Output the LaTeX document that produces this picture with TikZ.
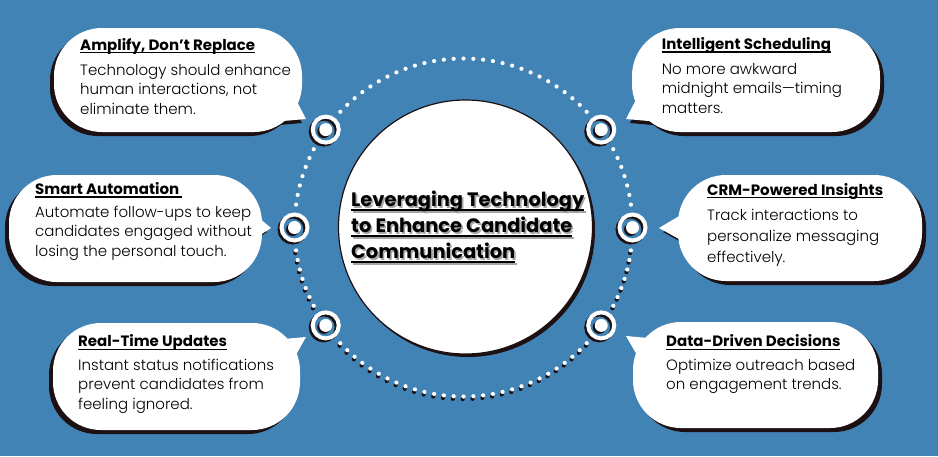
\documentclass[tikz,border=0pt]{standalone}
\usepackage{fontspec}
\setmainfont{Poppins}[UprightFont=* Light, BoldFont=* Bold]
\usetikzlibrary{calc}
\definecolor{bgblue}{RGB}{66,131,182}
\definecolor{shadowc}{RGB}{28,16,18}
\newlength\myulwd
\newcommand\myul[3]{\settowidth{\myulwd}{#3}\rlap{\rule[-#1]{\myulwd}{#2}}#3}
\newcommand\mybubble[6]{%
  \fill[#1, rounded corners=48pt] (#2,#3) rectangle (#4,#5);
  \fill[#1] #6 -- cycle;}
\begin{document}
\begin{tikzpicture}[x=1pt,y=-1pt,
  ttl/.style={anchor=base west, inner sep=0pt, font=\fontsize{15}{17}\selectfont\bfseries},
  bodytxt/.style={anchor=north west, inner sep=0pt, align=left, font=\fontsize{15}{19.4}\selectfont},
  dotw/.style={fill=white},
  dotb/.style={fill=shadowc}]
\useasboundingbox (0,0) rectangle (938,456);
\fill[bgblue] (0,0) rectangle (938,456);

% dotted circle
\coordinate (C) at (463.5,227.5);
\foreach \s/\e/\n in {7.8/27.6/6, 43.2/136.8/28, 152.4/172.2/6}{
  \foreach \i in {0,...,\n}{
    \pgfmathsetmacro\ang{\s+\i*(\e-\s)/\n}
    \fill[dotb] (C) ++(-0.8,2.6) ++(\ang:169) circle (2.1);
  }}
\foreach \s/\e/\n in {7.8/27.6/6, 43.2/136.8/28, 152.4/172.2/6, 187.8/207.6/6, 223.2/316.8/28, 332.4/352.2/6}{
  \foreach \i in {0,...,\n}{
    \pgfmathsetmacro\ang{\s+\i*(\e-\s)/\n}
    \fill[dotw] (C) ++(\ang:169) circle (2.1);
  }}

% rings
\foreach \a/\nm in {0/r5, 35.4/r6, 144.6/r3, 180/r2, 215.4/r1, 324.6/r4}{
  \coordinate (\nm) at ($(C)+(\a:169)$);
  \draw[shadowc, line width=4pt] (\nm) ++(-2,2) circle (13);
  \fill[shadowc] (\nm) ++(-2,2) circle (6.5);
  \draw[white, line width=4pt] (\nm) circle (13);
  \fill[white] (\nm) circle (6.5);
}

% central circle
\fill[shadowc] (468,230) circle (127);
\draw[fill=white, draw=shadowc, line width=1.2pt] (465.5,227) circle (127);
\node[anchor=north west, inner sep=0pt, align=left, text=gray!70,
  font=\fontsize{19.4}{26}\selectfont\bfseries] (tshadow) at (352.6,192.6)
  {\myul{4.6pt}{2pt}{Leveraging Technology}\\\myul{4.6pt}{2pt}{to Enhance Candidate}\\\myul{4.6pt}{2pt}{Communication}};
\node[anchor=north west, inner sep=0pt, align=left, text=black,
  font=\fontsize{19.4}{26}\selectfont\bfseries] (title) at (351,191)
  {\myul{4.6pt}{2pt}{Leveraging Technology}\\\myul{4.6pt}{2pt}{to Enhance Candidate}\\\myul{4.6pt}{2pt}{Communication}};

% bubble shadows
\begin{scope}[shift={(-4,4)}]
  \mybubble{shadowc}{54}{28}{302}{132}{(292,92) -- (306,119) -- (272,122)}
  \mybubble{shadowc}{9}{175}{262}{282}{(252,212) -- (271,228) -- (248,243)}
  \mybubble{shadowc}{53}{323}{300}{430}{(272,340) -- (306,337) -- (292,362)}
\end{scope}
\begin{scope}[shift={(4,4)}]
  \mybubble{shadowc}{632}{28}{880}{132}{(640,92) -- (626,119) -- (660,122)}
  \mybubble{shadowc}{678}{175}{922}{281}{(686,212) -- (659,228) -- (688,244)}
  \mybubble{shadowc}{633}{322}{878}{428}{(626,336) -- (660,339) -- (641,362)}
\end{scope}
% bubbles
\mybubble{white}{54}{28}{302}{132}{(292,92) -- (306,119) -- (272,122)}
\mybubble{white}{9}{175}{262}{282}{(252,212) -- (271,228) -- (248,243)}
\mybubble{white}{53}{323}{300}{430}{(272,340) -- (306,337) -- (292,362)}
\mybubble{white}{632}{28}{880}{132}{(640,92) -- (626,119) -- (660,122)}
\mybubble{white}{678}{175}{922}{281}{(686,212) -- (659,228) -- (688,244)}
\mybubble{white}{633}{322}{878}{428}{(626,336) -- (660,339) -- (641,362)}

% texts
\node[ttl] (t1) at (80,50) {\myul{3.3pt}{1.4pt}{Amplify, Don’t Replace}};
\node[bodytxt] (b1) at (80,64) {Technology should enhance\\human interactions, not\\eliminate them.};

\node[ttl] (t2) at (35,194.3) {\myul{3.3pt}{1.4pt}{Smart Automation\ }};
\node[bodytxt] (b2) at (35,205.7) {Automate follow-ups to keep\\candidates engaged without\\losing the personal touch.};

\node[ttl] (t3) at (78,346.7) {\myul{3.3pt}{1.4pt}{Real-Time Updates}};
\node[bodytxt] (b3) at (78,359) {Instant status notifications\\prevent candidates from\\feeling ignored.};

\node[ttl] (t4) at (661.7,49.3) {\myul{3.3pt}{1.4pt}{Intelligent Scheduling}};
\node[bodytxt] (b4) at (661.7,63) {No more awkward\\midnight emails—timing\\matters.};

\node[ttl] (t5) at (707,195) {\myul{3.3pt}{1.4pt}{CRM-Powered Insights}};
\node[bodytxt, font=\fontsize{15}{20.8}\selectfont] (b5) at (707,209) {Track interactions to\\personalize messaging\\effectively.};

\node[ttl] (t6) at (666,346.7) {\myul{3.3pt}{1.4pt}{Data-Driven Decisions}};
\node[bodytxt] (b6) at (666,359) {Optimize outreach based\\on engagement trends.};
\end{tikzpicture}
\end{document}
